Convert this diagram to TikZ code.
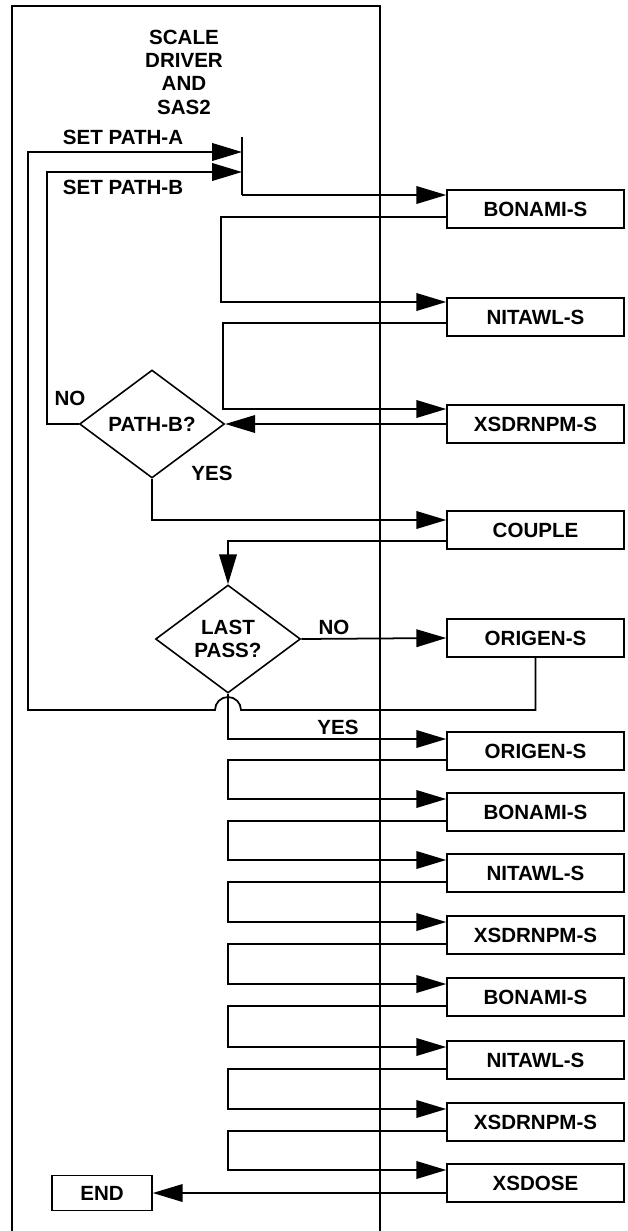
\documentclass[tikz,border=0pt]{standalone}
\usepackage{fontspec}
\setmainfont{Liberation Sans}
\usetikzlibrary{arrows.meta,shapes.geometric,calc}

\tikzset{
box/.style={draw,line width=0.9pt,minimum width=3.54cm,minimum height=0.76cm,inner sep=0pt},
decide/.style={draw,diamond,line width=0.9pt,minimum width=2.9cm,minimum height=2.16cm,inner sep=0pt,align=center},
lbl/.style={inner sep=0pt},
arr/.style={-{Triangle[length=17pt,width=10pt]}}
}

\begin{document}
\begin{tikzpicture}[x=0.02cm,y=-0.02cm,line width=1pt,font=\fontsize{11.7}{13.3}\selectfont\bfseries]
\useasboundingbox (0,0) rectangle (627,1231);
% driver frame
\draw[line width=0.6pt](12,1231)--(12,6)--(380,6)--(380,1231);
\draw(184,72)node[lbl,align=center](drv){SCALE\\DRIVER\\AND\\SAS2}
(62,137)node[lbl,anchor=west](seta){SET PATH-A}
(62,187)node[lbl,anchor=west](setb){SET PATH-B}
(70,398)node[lbl](no1){NO}
(212,473)node[lbl](yes1){YES}
(334,627)node[lbl](no2){NO}
(338,727)node[lbl](yes2){YES}
;
% decisions
\draw(152,424)node[decide](pb){PATH-B?}
(228,639)node[decide](lp){LAST\\PASS?}
(102,1193)node[box,minimum width=2cm,minimum height=0.7cm](endb){END}
;
% modules
\draw(535.5,209)node[box](bon1){BONAMI-S}
(535.5,317)node[box](nit1){NITAWL-S}
(535.5,424)node[box](xsd1){XSDRNPM-S}
(535.5,530)node[box](cpl){COUPLE}
(535.5,638)node[box](org1){ORIGEN-S}
(535.5,751)node[box](org2){ORIGEN-S}
(535.5,812)node[box](bon2){BONAMI-S}
(535.5,873)node[box](nit2){NITAWL-S}
(535.5,935)node[box](xsd2){XSDRNPM-S}
(535.5,997)node[box](bon3){BONAMI-S}
(535.5,1060)node[box](nit3){NITAWL-S}
(535.5,1122)node[box](xsd3){XSDRNPM-S}
(535.5,1183)node[box](xsds){XSDOSE}
;
% entry bar
\coordinate(bartop)at(242,137);
\coordinate(ina)at(242,152);
\coordinate(inb)at(242,172);
\coordinate(barbot)at(242,195);
\draw(bartop)--(barbot);
\draw[arr](barbot)--(barbot-|bon1.west);
% first pass
\draw[arr]($(bon1.west)+(0,8)$)--++(-225,0)|-($(nit1.west)+(0,-15)$);
\draw[arr]($(nit1.west)+(0,6)$)--++(-223,0)|-($(xsd1.west)+(0,-15)$);
\draw[arr](xsd1.west)--(pb.east);
\draw[arr](pb.west)-|(47,172)--(inb);
\draw[arr](pb.south)|-($(cpl.west)+(0,-10)$);
\draw[arr]($(cpl.west)+(0,11)$)-|(lp.north);
\draw[arr](lp.east)--(org1.west);
\draw[arr](org1.south)|-(241,710)arc(0:-180:13)--(28,710)|-(ina);
\draw[arr](lp.south)|-($(org2.west)+(0,-12)$);
% last pass
\foreach \a/\b in {org2/bon2,bon2/nit2,nit2/xsd2,xsd2/bon3,bon3/nit3,nit3/xsd3,xsd3/xsds}
\draw[arr]($(\a.west)+(0,9)$)--++(-218,0)|-($(\b.west)+(0,-13)$);
\draw[arr]($(xsds.west)+(0,10)$)--(endb.east);
\end{tikzpicture}
\end{document}
